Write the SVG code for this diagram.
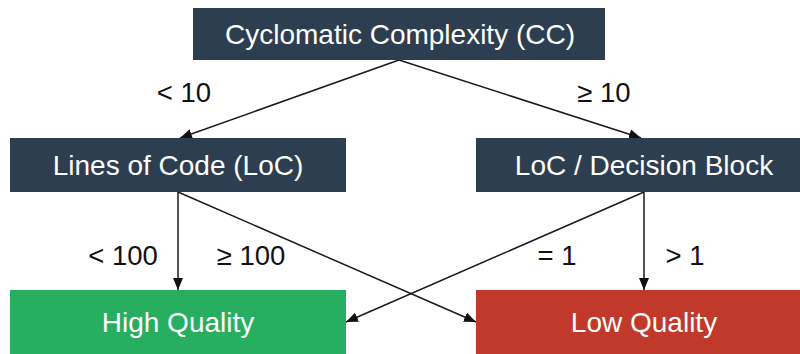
<svg xmlns="http://www.w3.org/2000/svg" width="800" height="354" viewBox="0 0 800 354">
  <style>
    .node-dark { fill: #2c3e50; }
    .node-good { fill: #27ae60; }
    .node-bad { fill: #c0392b; }
    .node-text { font-family: "Liberation Sans", Arial, sans-serif; font-size: 28px; fill: #ffffff; text-anchor: middle; }
    .edge { stroke: #1a1a1a; stroke-width: 1.5; fill: none; marker-end: url(#arrow); }
    .edge-label { font-family: "Liberation Sans", Arial, sans-serif; font-size: 27.5px; fill: #111111; text-anchor: middle; }
  </style>
  <defs>
    <marker id="arrow" viewBox="0 0 12 10" refX="12" refY="5" markerWidth="12" markerHeight="10" markerUnits="userSpaceOnUse" orient="auto">
      <path d="M0,0 L12,5 L0,10 z" fill="#111111"/>
    </marker>
  </defs>

  <rect width="800" height="354" fill="#ffffff"/>

  <!-- connectors -->
  <g id="edges">
    <line class="edge" x1="399" y1="60" x2="180" y2="138"/>
    <line class="edge" x1="399" y1="60" x2="641" y2="138"/>
    <line class="edge" x1="178" y1="192" x2="178" y2="290"/>
    <line class="edge" x1="178" y1="192" x2="476" y2="322"/>
    <line class="edge" x1="644" y1="192" x2="346" y2="322"/>
    <line class="edge" x1="644" y1="192" x2="644" y2="290"/>
    <text class="edge-label" x="184" y="102">&lt; 10</text>
    <text class="edge-label" x="604" y="102">≥ 10</text>
    <text class="edge-label" x="123" y="265">&lt; 100</text>
    <text class="edge-label" x="251" y="265">≥ 100</text>
    <text class="edge-label" x="557" y="265">= 1</text>
    <text class="edge-label" x="685" y="265">&gt; 1</text>
  </g>

  <!-- nodes -->
  <g id="cc">
    <rect class="node-dark" x="193" y="8" width="412" height="52"/>
    <text class="node-text" x="400" y="44">Cyclomatic Complexity (CC)</text>
  </g>
  <g id="loc">
    <rect class="node-dark" x="10" y="138" width="336" height="54"/>
    <text class="node-text" x="178" y="175">Lines of Code (LoC)</text>
  </g>
  <g id="loc-per-decision">
    <rect class="node-dark" x="476" y="138" width="336" height="54"/>
    <text class="node-text" x="644" y="175">LoC / Decision Block</text>
  </g>
  <g id="high-quality">
    <rect class="node-good" x="10" y="290" width="336" height="66"/>
    <text class="node-text" x="178" y="332">High Quality</text>
  </g>
  <g id="low-quality">
    <rect class="node-bad" x="476" y="290" width="336" height="66"/>
    <text class="node-text" x="644" y="332">Low Quality</text>
  </g>
</svg>
